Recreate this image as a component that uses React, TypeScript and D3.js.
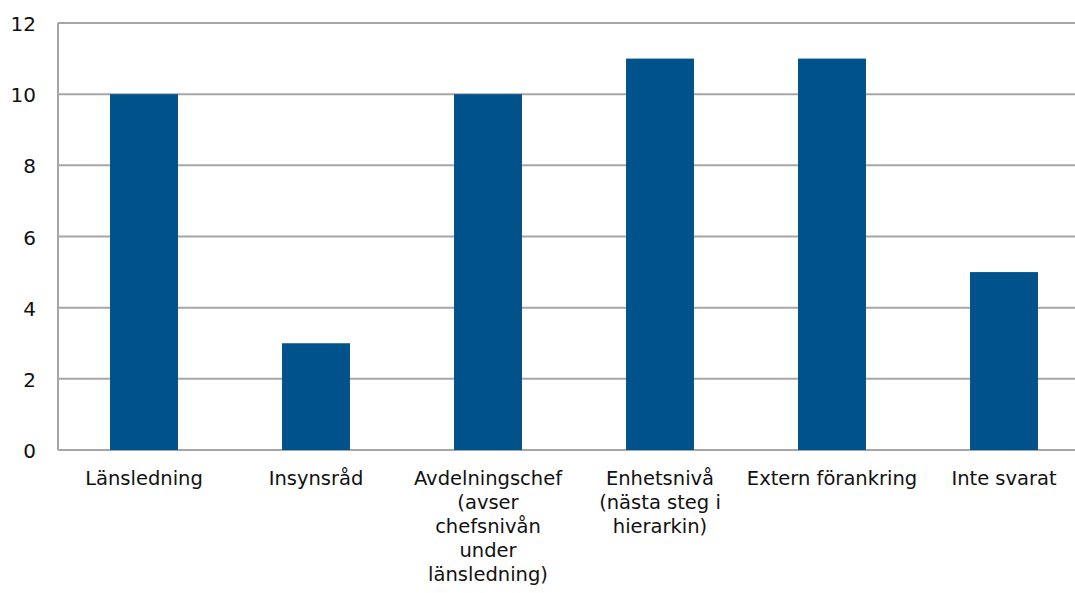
import React from "react";
import * as d3 from "d3";

const categories: string[][] = [
  ["Länsledning"],
  ["Insynsråd"],
  ["Avdelningschef", "(avser", "chefsnivån", "under", "länsledning)"],
  ["Enhetsnivå", "(nästa steg i", "hierarkin)"],
  ["Extern förankring"],
  ["Inte svarat"],
];
const values: number[] = [10, 3, 10, 11, 11, 5];
const yTicks: number[] = [0, 2, 4, 6, 8, 10, 12];

const W = 1075;
const H = 593;
const left = 58;
const right = 1090;
const top = 23;
const bottom = 450;

export default function App() {
  const x = d3.scaleBand<number>().domain(values.map((_, i) => i)).range([left, right]).padding(0);
  const y = d3.scaleLinear().domain([0, 12]).range([bottom, top]);
  const bw = x.bandwidth() * 0.395;
  const font = "'DejaVu Sans', sans-serif";
  return (
    <svg width={W} height={H} style={{ position: "absolute", left: 0, top: 0 }}>
      <rect width={W} height={H} fill="#fff" />
      {yTicks.map((t) => (
        <g key={t}>
          <line x1={left} x2={right} y1={y(t)} y2={y(t)} stroke="#a6a6a6" strokeWidth={2} />
          <text x={36} y={y(t) + 8} textAnchor="end" fontSize={20} fontFamily={font} fill="#111">
            {t}
          </text>
        </g>
      ))}
      <line x1={left} x2={left} y1={top} y2={bottom} stroke="#a6a6a6" strokeWidth={2} />
      {values.map((v, i) => (
        <rect
          key={i}
          x={(x(i) as number) + x.bandwidth() / 2 - bw / 2}
          y={y(v)}
          width={bw}
          height={y(0) - y(v)}
          fill="#00538a"
        />
      ))}
      {categories.map((lines, i) => (
        <text
          key={i}
          textAnchor="middle"
          fontSize={19.5}
          fontFamily={font}
          fill="#111"
        >
          {lines.map((l, j) => (
            <tspan key={j} x={(x(i) as number) + x.bandwidth() / 2} y={485 + j * 24}>
              {l}
            </tspan>
          ))}
        </text>
      ))}
    </svg>
  );
}
